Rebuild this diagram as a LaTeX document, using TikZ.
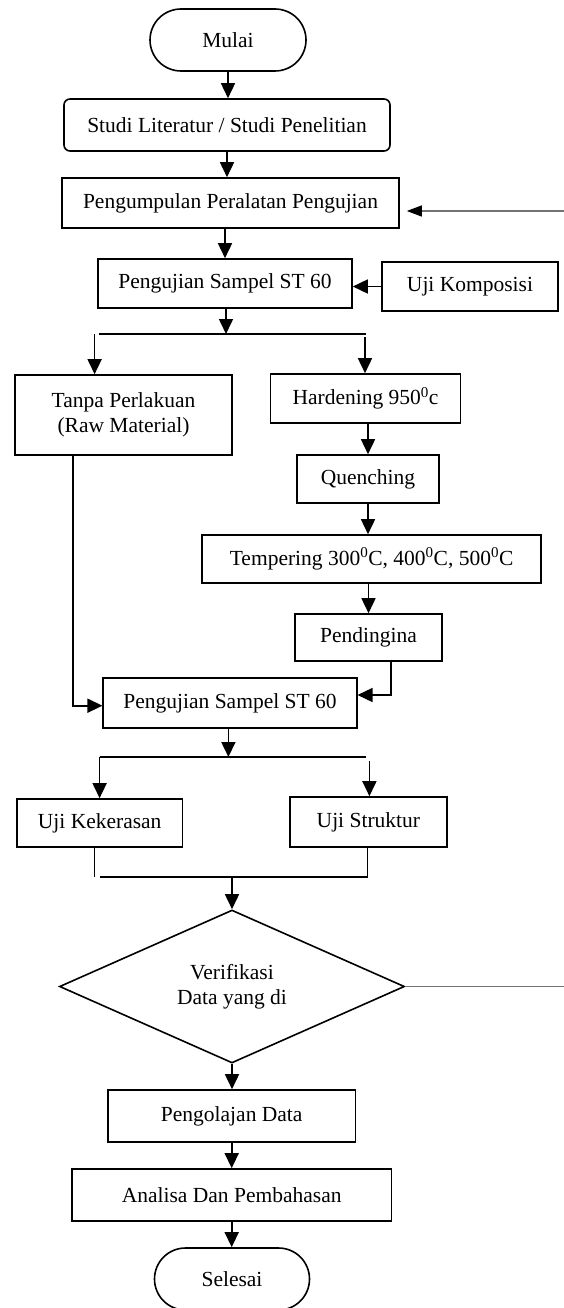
\documentclass[tikz,border=0pt]{standalone}
\usepackage{fontspec}
\setmainfont{Liberation Serif}
\usetikzlibrary{arrows.meta,shapes.geometric}
\begin{document}
\begin{tikzpicture}[x=1pt,y=-1pt,
  every node/.style={font=\fontsize{21.5pt}{25pt}\selectfont},
  box/.style={draw,line width=1.6pt,inner sep=0pt,align=center},
  term/.style={box,rounded corners=31pt},
  rbox/.style={box,rounded corners=6pt},
  arr/.style={line width=1.6pt,-{Triangle[length=15pt,width=14pt]}},
  ln/.style={line width=1.6pt},
  fb/.style={line width=1.2pt,draw=black!55}
]
\useasboundingbox (0,0) rectangle (564,1308);

% nodes
\node[term,minimum width=156pt,minimum height=62pt] (mulai) at (228,40) {Mulai};
\node[rbox,minimum width=326pt,minimum height=52pt] (studi) at (227,125) {Studi Literatur / Studi Penelitian};
\node[box,minimum width=337pt,minimum height=50pt] (kumpul) at (230.5,203) {Pengumpulan Peralatan Pengujian};
\node[box,minimum width=254pt,minimum height=49pt] (uji1) at (225,283.5) {Pengujian Sampel ST 60};
\node[box,minimum width=175.5pt,minimum height=49pt] (komp) at (470,286.5) {Uji Komposisi};
\node[box,minimum width=217pt,minimum height=80pt] (tanpa) at (123.5,415) {Tanpa Perlakuan\\(Raw Material)};
\node[box,minimum width=190pt,minimum height=49pt] (hard) at (365.5,398.5) {Hardening 950\textsuperscript{0}c};
\node[box,minimum width=142pt,minimum height=48pt] (quench) at (368,479) {Quenching};
\node[box,minimum width=339pt,minimum height=48pt] (temper) at (371.6,559) {Tempering 300\textsuperscript{0}C, 400\textsuperscript{0}C, 500\textsuperscript{0}C};
\node[box,minimum width=147pt,minimum height=47pt] (pend) at (368.5,637.5) {Pendingina};
\node[box,minimum width=253.5pt,minimum height=50pt] (uji2) at (230,703) {Pengujian Sampel ST 60};
\node[box,minimum width=165.4pt,minimum height=48pt] (keras) at (99.7,823) {Uji Kekerasan};
\node[box,minimum width=156.6pt,minimum height=50pt] (struk) at (368.4,822) {Uji Struktur};
\node[box,diamond,aspect=2.25,minimum width=345pt,minimum height=153pt] (verif) at (232,986.5) {Verifikasi\\Data yang di};
\node[box,minimum width=247.4pt,minimum height=52pt] (olah) at (231.7,1116) {Pengolajan Data};
\node[box,minimum width=319.4pt,minimum height=52pt] (analisa) at (231.7,1195) {Analisa Dan Pembahasan};
\node[term,minimum width=155pt,minimum height=62pt] (selesai) at (232,1279) {Selesai};

% helper coordinates
\coordinate (s1) at (226,334);
\coordinate (s1l) at (94.6,334);
\coordinate (s1r) at (365,337);
\coordinate (p1) at (391,695);
\coordinate (t1) at (72.7,705.7);
\coordinate (s2) at (228.4,757);
\coordinate (s2l) at (99.6,757);
\coordinate (s2r) at (369.4,761);
\coordinate (m1) at (94.6,877);
\coordinate (m2) at (367.6,877);
\coordinate (m0) at (232,877);
\coordinate (fb1) at (564,986.5);
\coordinate (fb2) at (564,211);

% connectors
\draw[arr] (mulai.south) -- (mulai.south |- studi.north);
\draw[arr] (studi.south) -- (studi.south |- kumpul.north);
\draw[arr] (uji1.north |- kumpul.south) -- (uji1.north);
\draw[arr] (komp.west) -- (komp.west -| uji1.east);
\draw[arr] (uji1.south -| s1) -- (s1);
\draw[ln] (99,334) -- (366,334);
\draw[arr] (s1l) -- (s1l |- tanpa.north);
\draw[arr] (s1r) -- (s1r |- hard.north);
\draw[arr] (quench.north |- hard.south) -- (quench.north);
\draw[arr] (quench.south) -- (quench.south |- temper.north);
\draw[arr] (pend.north |- temper.south) -- (pend.north);
\draw[arr] (pend.south -| p1) -- (p1) -- (p1 -| uji2.east);
\draw[arr] (tanpa.south -| t1) -- (t1) -- (t1 -| uji2.west);
\draw[arr] (uji2.south -| s2) -- (s2);
\draw[ln] (s2l) -- (365.8,757);
\draw[arr] (s2l) -- (s2l |- keras.north);
\draw[arr] (s2r) -- (s2r |- struk.north);
\draw[ln] (keras.south -| m1) -- (m1);
\draw[ln] (struk.south -| m2) -- (m2) -- (100,877);
\draw[arr] (m0) -- (verif.north);
\draw[arr] (verif.south) -- (verif.south |- olah.north);
\draw[arr] (olah.south) -- (olah.south |- analisa.north);
\draw[arr] (analisa.south) -- (analisa.south |- selesai.north);
\draw[fb] (verif.east) -- (fb1);
\draw[fb,-{Triangle[length=15pt,width=11pt,color=black]},shorten >=7pt] (fb2) -- (kumpul.east |- fb2);
\end{tikzpicture}
\end{document}
